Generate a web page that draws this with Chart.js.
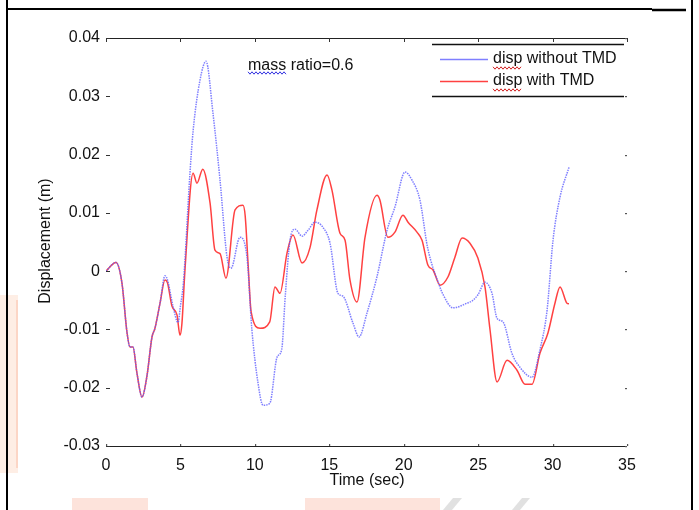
<!DOCTYPE html>
<html><head><meta charset="utf-8">
<script src="https://cdn.jsdelivr.net/npm/chart.js@4/dist/chart.umd.min.js"></script>
<style>html,body{margin:0;padding:0;background:#fff;}canvas{display:block;}</style>
</head><body>
<canvas id="c" width="699" height="510"></canvas>
<script>
// Time (sec) and displacement (m)
const timeWithout = [0,0.67,1.07,1.41,1.61,1.81,2.08,2.42,2.75,3.09,3.29,3.63,3.96,4.13,4.5,4.84,5.0,5.2,5.64,5.85,6.31,6.72,7.19,7.66,8.13,8.4,9.0,9.47,9.8,10.2,10.55,11.0,11.5,11.8,12.05,12.36,12.7,13.17,13.57,14.04,14.58,15.05,15.58,15.92,16.59,17.0,17.53,18.2,18.88,19.41,20.09,20.56,21.09,21.6,22.4,22.64,23.31,24.25,24.65,25.0,25.46,25.93,26.27,26.67,27.27,27.81,28.62,29.15,29.63,30.03,30.5,31.1];
const dispWithout = [0,0.0015,-0.002,-0.0105,-0.013,-0.013,-0.0175,-0.0216,-0.018,-0.0113,-0.0098,-0.0055,-0.0008,-0.0015,-0.006,-0.0088,-0.006,-0.002,0.0168,0.024,0.0327,0.036,0.027,0.0156,0.0024,0.0005,0.0058,0.0024,-0.010,-0.019,-0.023,-0.0227,-0.0147,-0.0135,-0.004,0.0053,0.0072,0.006,0.007,0.0084,0.0075,0.0048,-0.0038,-0.0043,-0.0089,-0.0113,-0.0072,-0.001,0.007,0.011,0.017,0.0156,0.0122,0.0041,-0.0025,-0.004,-0.0063,-0.0055,-0.005,-0.004,-0.0019,-0.0038,-0.0081,-0.0087,-0.0141,-0.0165,-0.0182,-0.0135,-0.0067,0.0053,0.0127,0.0178];

const timeWith = [0,0.67,1.07,1.41,1.61,1.81,2.08,2.42,2.75,3.09,3.29,3.63,3.96,4.13,4.43,4.77,4.97,5.1,5.3,5.85,6.11,6.5,6.99,7.32,7.66,8.06,8.67,9.2,9.35,9.55,9.75,10.35,11.0,11.35,11.69,12.16,12.56,13.17,13.7,14.17,14.85,15.18,15.72,16.06,16.39,16.86,17.4,18.2,18.4,18.94,19.41,19.95,20.29,20.89,21.23,21.63,21.97,22.44,22.97,23.44,23.92,24.45,24.99,25.46,25.8,26.27,26.94,27.61,28.15,28.62,29.15,29.69,30.16,30.5,30.97,31.1];
const dispWith = [0,0.0015,-0.002,-0.0105,-0.013,-0.013,-0.0175,-0.0216,-0.018,-0.0113,-0.0098,-0.0055,-0.0015,-0.002,-0.006,-0.0075,-0.011,-0.009,0.0,0.0168,0.0151,0.0175,0.0117,0.0036,0.003,-0.0012,0.0105,0.0113,0.0095,0.001,-0.007,-0.0098,-0.0087,-0.0027,-0.0038,0.0031,0.0062,0.0014,0.004,0.0105,0.0165,0.0139,0.0065,0.0053,-0.0015,-0.0053,0.0058,0.013,0.0122,0.0058,0.0067,0.0096,0.0084,0.0067,0.0053,0.001,0.0002,-0.0024,-0.001,0.0024,0.0057,0.0048,0.0022,-0.0027,-0.0101,-0.019,-0.0153,-0.017,-0.0194,-0.0194,-0.0141,-0.0106,-0.0055,-0.0027,-0.0055,-0.0056];

const xTicks = [0,5,10,15,20,25,30,35];
const yTicks = [-0.03,-0.02,-0.01,0,0.01,0.02,0.03,0.04];
const seriesNames = ['disp without TMD','disp with TMD'];
const titleText = 'mass ratio=0.6';
const xTitle = 'Time (sec)';
const yTitle = 'Displacement (m)';

const FONT = '"Liberation Sans", Arial, sans-serif';
const BLUE = 'rgba(95,95,255,0.8)';
const RED = 'rgba(255,55,55,0.95)';

function pts(t, d){ return t.map((x,i)=>({x:x,y:d[i]})); }

function wavy(ctx, x0, x1, y, color){
  ctx.save(); ctx.strokeStyle=color; ctx.lineWidth=1; ctx.beginPath();
  for(let x=x0, k=0; x<=x1; x+=2, k++){ const yy = y + (k%2?1.2:-1.2); if(k===0) ctx.moveTo(x,yy); else ctx.lineTo(x,yy); }
  ctx.stroke(); ctx.restore();
}

const decor = {
  id:'decor',
  beforeDraw(chart){
    const ctx = chart.ctx;
    ctx.save();
    // faint page watermark blocks
    ctx.fillStyle='rgba(253,232,220,0.75)';
    ctx.fillRect(0,295,18,178);
    ctx.fillStyle='rgba(250,170,140,0.35)';
    ctx.fillRect(16,300,2,168);
    ctx.fillStyle='rgba(251,208,195,0.6)';
    ctx.fillRect(72,498,76,12);
    ctx.fillRect(305,498,135,12);
    ctx.fillStyle='rgba(205,205,205,0.6)';
    ctx.beginPath(); ctx.moveTo(443,510); ctx.lineTo(453,498); ctx.lineTo(462,498); ctx.lineTo(452,510); ctx.fill();
    ctx.beginPath(); ctx.moveTo(512,510); ctx.lineTo(522,498); ctx.lineTo(530,498); ctx.lineTo(520,510); ctx.fill();
    // page frame
    ctx.strokeStyle='#000'; ctx.lineWidth=2;
    ctx.beginPath(); ctx.moveTo(7,0); ctx.lineTo(7,510); ctx.stroke();
    ctx.beginPath(); ctx.moveTo(692,0); ctx.lineTo(692,510); ctx.stroke();
    ctx.beginPath(); ctx.moveTo(7,9); ctx.lineTo(652,9); ctx.stroke();
    ctx.lineWidth=2.5;
    ctx.beginPath(); ctx.moveTo(652,10); ctx.lineTo(686,10); ctx.stroke();
    ctx.restore();
  },
  afterDraw(chart){
    const ctx = chart.ctx, a = chart.chartArea, xs = chart.scales.x, ys = chart.scales.y;
    ctx.save();
    // axes lines (top and bottom)
    ctx.strokeStyle='#222'; ctx.lineWidth=1.2;
    ctx.beginPath(); ctx.moveTo(a.left,a.top+0.5); ctx.lineTo(a.right,a.top+0.5); ctx.stroke();
    ctx.beginPath(); ctx.moveTo(a.left,a.bottom+0.5); ctx.lineTo(a.right,a.bottom+0.5); ctx.stroke();
    // inward ticks
    ctx.lineWidth=1; ctx.strokeStyle='#333';
    yTicks.forEach(v=>{ const y=Math.round(ys.getPixelForValue(v))+0.5;
      ctx.beginPath(); ctx.moveTo(a.left,y); ctx.lineTo(a.left+4,y); ctx.stroke();
      ctx.fillStyle='#555'; ctx.fillRect(a.right-2,y-0.5,2,1.2); });
    xTicks.forEach(v=>{ const x=Math.round(xs.getPixelForValue(v))+0.5;
      ctx.beginPath(); ctx.moveTo(x,a.top); ctx.lineTo(x,a.top+4); ctx.stroke();
      ctx.fillStyle='#555'; ctx.fillRect(x-0.5,a.bottom-2,1.2,2); });
    // title
    ctx.fillStyle='#111'; ctx.font='16px '+FONT; ctx.textBaseline='middle'; ctx.textAlign='left';
    ctx.fillText(titleText, 248, 66);
    wavy(ctx, 248, 287, 73, '#3030e0');
    // axis titles
    ctx.textAlign='center';
    ctx.fillText(xTitle, 367, 481);
    ctx.save(); ctx.translate(46,241); ctx.rotate(-Math.PI/2); ctx.fillText(yTitle,0,0); ctx.restore();
    // legend
    ctx.strokeStyle='#111'; ctx.lineWidth=1.3;
    ctx.beginPath(); ctx.moveTo(432,44.5); ctx.lineTo(624,44.5); ctx.stroke();
    ctx.beginPath(); ctx.moveTo(432,96.5); ctx.lineTo(624,96.5); ctx.stroke();
    const cols=[BLUE,RED], ly=[59,81];
    seriesNames.forEach((n,i)=>{
      ctx.strokeStyle=cols[i]; ctx.lineWidth=1.3;
      ctx.beginPath(); ctx.moveTo(440,ly[i]+0.5); ctx.lineTo(488,ly[i]+0.5); ctx.stroke();
      ctx.fillStyle='#111'; ctx.textAlign='left'; ctx.fillText(n,493,ly[i]);
      wavy(ctx, 493, 522, ly[i]+9, '#d02020');
    });
    ctx.restore();
  }
};

new Chart(document.getElementById('c'), {
  type:'line',
  data:{ datasets:[
    { label:seriesNames[0], data:pts(timeWithout,dispWithout), borderColor:BLUE, borderWidth:1.5, borderDash:[1.5,1], pointRadius:0, cubicInterpolationMode:'monotone', fill:false },
    { label:seriesNames[1], data:pts(timeWith,dispWith), borderColor:RED, borderWidth:1.5, pointRadius:0, cubicInterpolationMode:'monotone', fill:false }
  ]},
  options:{
    responsive:false, animation:false, devicePixelRatio:1,
    layout:{ padding:{ left:0, top:38, right:72, bottom:0 } },
    plugins:{ legend:{display:false}, tooltip:{enabled:false}, title:{display:false} },
    scales:{
      x:{ type:'linear', min:0, max:35, border:{display:false},
          grid:{display:false, drawTicks:false},
          afterBuildTicks(s){ s.ticks = xTicks.map(v=>({value:v})); },
          afterFit(s){ s.height = 64; },
          ticks:{ padding:10, color:'#111', font:{family:FONT,size:16}, maxRotation:0, autoSkip:false, callback:v=>String(v) } },
      y:{ type:'linear', min:-0.03, max:0.04, border:{display:false},
          grid:{display:false, drawTicks:false},
          afterBuildTicks(s){ s.ticks = yTicks.map(v=>({value:v})); },
          afterFit(s){ s.width = 106; },
          ticks:{ padding:6, color:'#111', font:{family:FONT,size:16}, autoSkip:false, callback:v=> v===0 ? '0' : String(Math.round(v*100)/100) } }
    }
  },
  plugins:[decor]
});
</script>
</body></html>
